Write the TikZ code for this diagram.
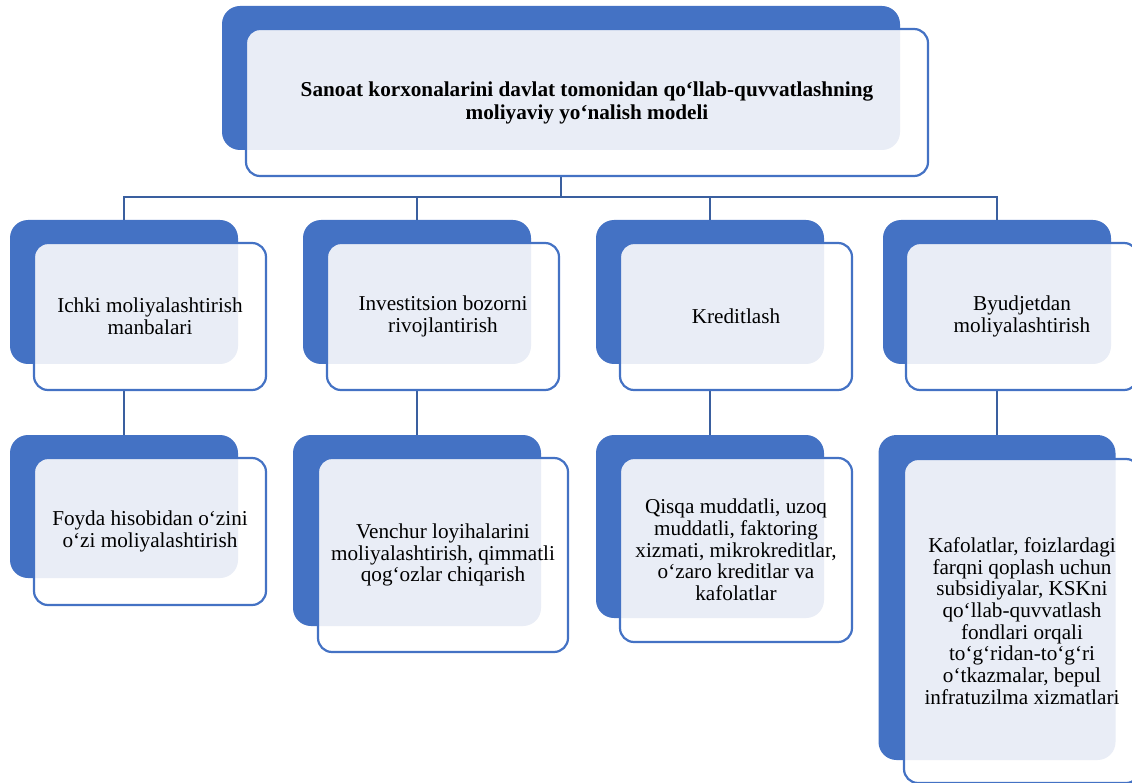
\documentclass[tikz,border=0pt]{standalone}
\usepackage{fontspec}
\setmainfont{Liberation Serif}
\usetikzlibrary{positioning}

\definecolor{boxblue}{HTML}{4472C4}
\definecolor{boxlight}{HTML}{E9EDF6}
\definecolor{linkblue}{HTML}{3A5F9F}

\tikzset{
    backbox/.style={fill=boxblue, rounded corners=18pt, inner sep=0pt, outer sep=0pt},
    frontbox/.style={draw=boxblue, line width=2.2pt, fill=white, rounded corners=14pt,
        inner sep=0pt, outer sep=0pt, align=center,
        font=\fontsize{21.2pt}{21.7pt}\selectfont,
        path picture={\fill[boxlight, rounded corners=18pt] (#1.north west) rectangle (#1.south east);}},
    link/.style={draw=linkblue, line width=2.5pt},
}

\begin{document}
\begin{tikzpicture}[x=1pt, y=-1pt]
    \useasboundingbox (0,0) rectangle (1132,783);
    \clip (0,0) rectangle (1132,783);

    % Back panels
    \node[backbox, minimum width=678pt, minimum height=144pt] (b0) at (561,78) {};
    \node[backbox, minimum width=228pt, minimum height=144pt] (b1) at (124,292) {};
    \node[backbox, minimum width=228pt, minimum height=144pt] (b2) at (417,292) {};
    \node[backbox, minimum width=228pt, minimum height=144pt] (b3) at (710,292) {};
    \node[backbox, minimum width=228pt, minimum height=144pt] (b4) at (997,292) {};
    \node[backbox, minimum width=228pt, minimum height=143pt] (b5) at (124,506.5) {};
    \node[backbox, minimum width=248pt, minimum height=191pt] (b6) at (417,530.5) {};
    \node[backbox, minimum width=228pt, minimum height=183pt] (b7) at (710,526.5) {};
    \node[backbox, minimum width=237pt, minimum height=325pt] (b8) at (997,597.5) {};

    % Connectors
    \coordinate (bus) at (561,197);
    \draw[link] (b0.south) -- (bus);
    \draw[link] (b1.north) |- (bus);
    \draw[link] (b2.north) |- (bus);
    \draw[link] (b3.north) |- (bus);
    \draw[link] (b4.north) |- (bus);
    \draw[link] (b1.south) -- (b5.north);
    \draw[link] (b2.south) -- (b6.north);
    \draw[link] (b3.south) -- (b7.north);
    \draw[link] (b4.south) -- (b8.north);

    % Front panels with text
    \node[frontbox=b0, minimum width=682pt, minimum height=147pt,
        font=\bfseries\fontsize{21.2pt}{23pt}\selectfont] (f0) at (587,102.5)
        {Sanoat korxonalarini davlat tomonidan qo‘llab-quvvatlashning\\moliyaviy yo‘nalish modeli};

    \node[frontbox=b1, minimum width=232pt, minimum height=147pt] (f1) at (150,316.5)
        {Ichki moliyalashtirish\\manbalari};
    \node[frontbox=b2, minimum width=232pt, minimum height=147pt] (f2) at (443,316.5)
        {Investitsion bozorni\\rivojlantirish};
    \node[frontbox=b3, minimum width=232pt, minimum height=147pt] (f3) at (736,316.5)
        {Kreditlash};
    \node[frontbox=b4, minimum width=232pt, minimum height=147pt] (f4) at (1022,316.5)
        {Byudjetdan\\moliyalashtirish};

    \node[frontbox=b5, minimum width=232pt, minimum height=147pt] (f5) at (150,531.5)
        {Foyda hisobidan o‘zini\\o‘zi moliyalashtirish};
    \node[frontbox=b6, minimum width=250pt, minimum height=194pt] (f6) at (443,555)
        {Venchur loyihalarini\\moliyalashtirish, qimmatli\\qog‘ozlar chiqarish};
    \node[frontbox=b7, minimum width=232pt, minimum height=184pt] (f7) at (736,550)
        {Qisqa muddatli, uzoq\\muddatli, faktoring\\xizmati, mikrokreditlar,\\o‘zaro kreditlar va\\kafolatlar};
    \node[frontbox=b8, minimum width=236pt, minimum height=324pt] (f8) at (1022,621)
        {Kafolatlar, foizlardagi\\farqni qoplash uchun\\subsidiyalar, KSKni\\qo‘llab-quvvatlash\\fondlari orqali\\to‘g‘ridan-to‘g‘ri\\o‘tkazmalar, bepul\\infratuzilma xizmatlari};
\end{tikzpicture}
\end{document}
